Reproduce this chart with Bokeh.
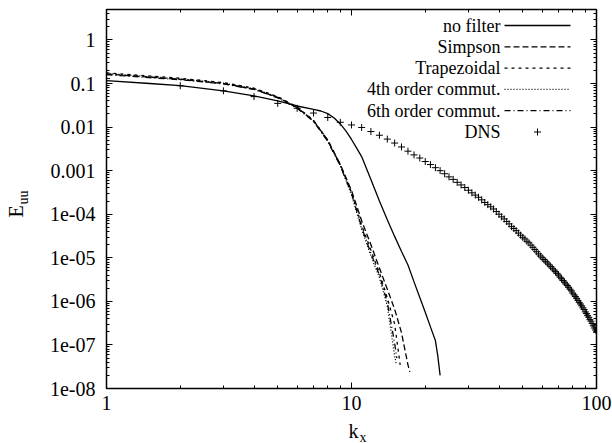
import math
from bokeh.plotting import figure
from bokeh.models import LogAxis, FixedTicker, Label, Arrow, Range1d
from bokeh.embed import file_html
from bokeh.resources import INLINE

# ---------------- data ----------------
dns_k = list(range(1, 101))
dns_E = [0.13, 0.089, 0.068, 0.050, 0.035, 0.027, 0.021, 0.0166, 0.0129, 0.0112,
         0.0098, 0.0079, 0.0065, 0.0053, 0.0043, 0.0035, 0.0028, 0.0023, 0.00195, 0.00162,
         0.00138, 0.00117, 0.00100, 8.5e-4, 7.2e-4, 6.3e-4, 5.4e-4, 4.7e-4, 4.1e-4, 3.55e-4,
         3.1e-4, 2.75e-4, 2.45e-4, 2.14e-4, 1.86e-4, 1.66e-4, 1.48e-4, 1.32e-4, 1.15e-4, 1.00e-4,
         8.7e-5, 7.8e-5, 6.8e-5, 6.0e-5, 5.2e-5, 4.7e-5, 4.2e-5, 3.7e-5, 3.3e-5, 2.95e-5,
         2.7e-5, 2.4e-5, 2.2e-5, 1.95e-5, 1.74e-5, 1.55e-5, 1.38e-5, 1.23e-5, 1.10e-5, 1.00e-5,
         9.1e-6, 8.3e-6, 7.6e-6, 6.9e-6, 6.3e-6, 5.75e-6, 5.25e-6, 4.8e-6, 4.4e-6, 4.0e-6,
         3.6e-6, 3.3e-6, 3.0e-6, 2.75e-6, 2.5e-6, 2.3e-6, 2.1e-6, 1.9e-6, 1.74e-6, 1.55e-6,
         1.41e-6, 1.29e-6, 1.17e-6, 1.05e-6, 9.5e-7, 8.7e-7, 7.9e-7, 7.1e-7, 6.5e-7, 5.75e-7,
         5.25e-7, 4.7e-7, 4.3e-7, 3.8e-7, 3.5e-7, 3.1e-7, 2.75e-7, 2.45e-7, 2.2e-7, 1.95e-7]

nofilt_k = [1, 1.5, 2, 3, 4, 5, 6, 7, 7.5, 8, 8.5, 9, 9.5, 10, 10.5, 11, 12, 13, 14, 15,
            16, 17, 18, 19, 20, 21, 22, 22.5, 23]
nofilt_E = [0.116, 0.100, 0.089, 0.068, 0.052, 0.040, 0.0305, 0.0255, 0.0234, 0.0204,
            0.0162, 0.0118, 0.0081, 0.0052, 0.0033, 0.0021, 6.3e-4, 2.0e-4, 7.5e-5, 3.1e-5,
            1.4e-5, 6.8e-6, 2.8e-6, 1.23e-6, 5.6e-7, 2.6e-7, 1.26e-7, 5.6e-8, 2.0e-8]

simp_k = [1, 2, 3, 4, 5, 6, 7, 8, 9, 10, 11, 12, 13, 14, 15, 16, 17, 17.3]
simp_E = [0.165, 0.125, 0.100, 0.074, 0.048, 0.028, 0.014, 0.0050, 0.0014, 3.5e-4,
          7.1e-5, 2.0e-5, 5.8e-6, 1.9e-6, 6.6e-7, 1.9e-7, 3.5e-8, 2.4e-8]

trap_k = [1, 2, 3, 4, 5, 6, 7, 8, 9, 10, 11, 12, 13, 14, 15, 15.8]
trap_E = [0.175, 0.132, 0.105, 0.078, 0.050, 0.029, 0.0142, 0.0050, 1.35e-3, 3.2e-4,
          5.6e-5, 1.5e-5, 4.5e-6, 1.2e-6, 3.0e-7, 3.5e-8]

c4_k = [1, 2, 3, 4, 5, 6, 7, 8, 9, 10, 11, 12, 13, 14, 15, 15.2]
c4_E = [0.17, 0.128, 0.102, 0.076, 0.049, 0.028, 0.0138, 0.0048, 1.3e-3, 2.8e-4,
        4.5e-5, 1.1e-5, 3.5e-6, 7.9e-7, 5.6e-8, 3.8e-8]

c6_k = [1, 2, 3, 4, 5, 6, 7, 8, 9, 10, 11, 12, 13, 14, 15, 15.3]
c6_E = [0.16, 0.122, 0.098, 0.073, 0.047, 0.027, 0.0135, 0.0047, 1.3e-3, 3.0e-4,
        5.0e-5, 1.26e-5, 4.0e-6, 9.5e-7, 1.1e-7, 5.0e-8]

x_ticks = [1, 10, 100]
x_tick_labels = ["1", "10", "100"]
y_ticks = [1e-8, 1e-7, 1e-6, 1e-5, 1e-4, 1e-3, 1e-2, 1e-1, 1]
y_tick_labels = ["1e-08", "1e-07", "1e-06", "1e-05", "1e-04", "0.001", "0.01", "0.1", "1"]

legend_labels = ["no filter", "Simpson", "Trapezoidal", "4th order commut.",
                 "6th order commut.", "DNS"]

# ---------------- figure ----------------
FONT = "Liberation Serif"
W, H = 612, 443
BL, BR, BT, BB = 106, 16, 9, 55
FW, FH = W - BL - BR, H - BT - BB
X_MIN, X_MAX = 1, 100
Y_MIN, Y_MAX = 1e-8, 5

p = figure(width=W, height=H, x_axis_type="log", y_axis_type="log",
           x_range=Range1d(X_MIN, X_MAX), y_range=Range1d(Y_MIN, Y_MAX),
           output_backend="svg", toolbar_location=None,
           min_border_left=BL, min_border_right=BR, min_border_top=BT, min_border_bottom=BB)
p.grid.visible = False
p.outline_line_color = "black"
p.outline_line_width = 1.5
p.background_fill_color = "white"
p.border_fill_color = "white"


def data_x(px):
    """canvas pixel column -> data x (log axis), used only to place texts"""
    lo, hi = math.log10(X_MIN), math.log10(X_MAX)
    return 10 ** (lo + (px - BL) / FW * (hi - lo))


def data_y(py):
    """canvas pixel row -> data y (log axis), used only to place texts"""
    lo, hi = math.log10(Y_MIN), math.log10(Y_MAX)
    return 10 ** (lo + (BT + FH - py) / FH * (hi - lo))


x_minor = [m * 10 ** d for d in range(0, 2) for m in range(2, 10)]
y_minor = [m * 10.0 ** e for e in range(-8, 1) for m in range(2, 10)]


def style(ax, ticks, minor, labels):
    ax.ticker = FixedTicker(ticks=ticks, minor_ticks=minor)
    ax.axis_line_color = None
    ax.major_tick_in = 6
    ax.major_tick_out = 0
    ax.minor_tick_in = 3
    ax.minor_tick_out = 0
    ax.major_tick_line_color = "black"
    ax.minor_tick_line_color = "black"
    ax.major_tick_line_width = 1
    ax.minor_tick_line_width = 1
    ax.major_label_text_font = FONT
    ax.major_label_text_color = "black"
    if labels is None:
        ax.major_label_text_font_size = "0px"
        ax.major_label_overrides = {t: "" for t in ticks}
        ax.major_label_standoff = 0
    else:
        ax.major_label_text_font_size = "20px"
        ax.major_label_overrides = dict(zip(ticks, labels))


style(p.xaxis[0], x_ticks, x_minor, x_tick_labels)
p.xaxis[0].major_label_standoff = 7
style(p.yaxis[0], y_ticks, y_minor, y_tick_labels)
p.yaxis[0].major_label_standoff = 11

top = LogAxis()
style(top, x_ticks, x_minor, None)
p.add_layout(top, "above")
right = LogAxis()
style(right, y_ticks, y_minor, None)
p.add_layout(right, "right")

# ---------------- series ----------------
LW = 1.3
p.line(nofilt_k, nofilt_E, line_color="black", line_width=LW)
p.line(simp_k, simp_E, line_color="black", line_width=LW, line_dash="6 3")
p.line(trap_k, trap_E, line_color="black", line_width=LW, line_dash="3 4")
p.line(c4_k, c4_E, line_color="black", line_width=LW, line_dash="1 2")
p.line(c6_k, c6_E, line_color="black", line_width=LW, line_dash="6 3 1 3")
p.scatter(dns_k, dns_E, marker="cross", size=7, line_color="black", line_width=1)

# ---------------- legend (gnuplot style: text then sample) ----------------
dashes = ["solid", "6 3", "3 4", "1 2", "6 3 1 3", None]
row0, drow = 25, 21.3          # canvas y of first row, spacing
text_right, s0, s1 = 500, 504, 570
for i, (lab, dsh) in enumerate(zip(legend_labels, dashes)):
    cy = row0 + i * drow
    sy = BT + FH - cy  # frame-relative screen y
    p.add_layout(Label(x=text_right - BL, y=sy, x_units="screen", y_units="screen",
                       text=lab, text_font=FONT, text_font_size="18px",
                       text_align="right", text_baseline="middle", text_color="black"))
    if dsh is not None:
        p.add_layout(Arrow(end=None, x_start=s0 - BL, y_start=sy, x_end=s1 - BL, y_end=sy,
                           start_units="screen", end_units="screen",
                           line_color="black", line_width=LW, line_dash=dsh))
    else:
        cx = (s0 + s1) / 2 - BL
        p.add_layout(Arrow(end=None, x_start=cx - 3.5, y_start=sy, x_end=cx + 3.5, y_end=sy,
                           start_units="screen", end_units="screen",
                           line_color="black", line_width=1))
        p.add_layout(Arrow(end=None, x_start=cx, y_start=sy - 3.5, x_end=cx, y_end=sy + 3.5,
                           start_units="screen", end_units="screen",
                           line_color="black", line_width=1))

# ---------------- axis titles with subscripts (in side panels, so not clipped) ----------------
# positions are the centres of the text boxes, in canvas pixels
p.add_layout(Label(x=data_x(348), y=data_y(430), text="k", text_font=FONT,
                   text_font_size="20px", text_align="left", text_baseline="middle",
                   text_color="black"), "below")
p.add_layout(Label(x=data_x(359), y=data_y(436.5), text="x", text_font=FONT,
                   text_font_size="14px", text_align="left", text_baseline="middle",
                   text_color="black"), "right")
p.add_layout(Label(x=data_x(15.5), y=data_y(217), text="E", text_font=FONT,
                   text_font_size="20px", angle=math.pi / 2, text_align="left",
                   text_baseline="middle", text_color="black"), "left")
p.add_layout(Label(x=data_x(22.5), y=data_y(204), text="uu", text_font=FONT,
                   text_font_size="14px", angle=math.pi / 2, text_align="left",
                   text_baseline="middle", text_color="black"), "left")

open("out.html", "w").write(file_html(p, INLINE))
